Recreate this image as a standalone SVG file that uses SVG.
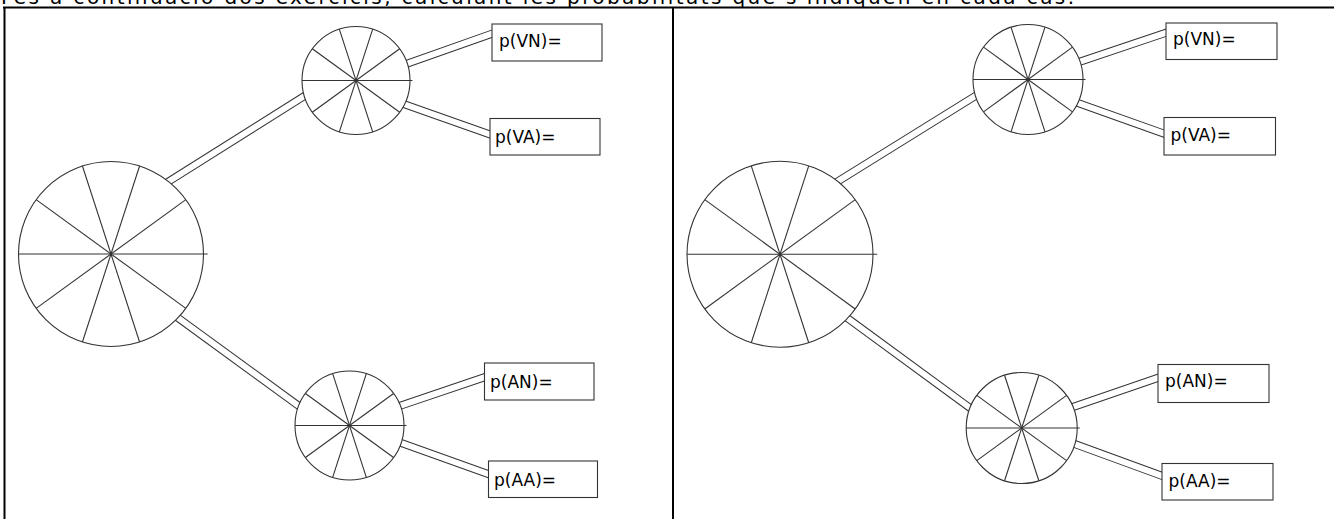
<svg xmlns="http://www.w3.org/2000/svg" xmlns:xlink="http://www.w3.org/1999/xlink" width="1334" height="519" viewBox="0 0 1334 519">
<style>
.frame{stroke:#000;stroke-width:2;fill:none}
.co{stroke:#333;stroke-width:8;fill:none}
.ci{stroke:#fff;stroke-width:6;fill:none}
.wheel{fill:#fff;stroke:#333;stroke-width:1.1}
.nss{vector-effect:non-scaling-stroke}
.box rect{fill:#fff;stroke:#333;stroke-width:1.1}
.box text{font-family:"DejaVu Sans",Verdana,sans-serif;font-size:17px;fill:#000}
.title{font-family:"DejaVu Sans",Verdana,sans-serif;font-size:20px;fill:#000}
</style>
<defs>
<g id="wheel">
<circle class="nss" cx="0" cy="0" r="1"/>
<line class="nss" x1="-1" y1="0" x2="1.045" y2="0"/>
<line class="nss" x1="-0.809" y1="0.588" x2="0.809" y2="-0.588"/>
<line class="nss" x1="-0.309" y1="0.951" x2="0.309" y2="-0.951"/>
<line class="nss" x1="0.309" y1="0.951" x2="-0.309" y2="-0.951"/>
<line class="nss" x1="0.809" y1="0.588" x2="-0.809" y2="-0.588"/>
</g>
</defs>
<rect width="1334" height="519" fill="#fff"/>
<text class="title" x="1" y="3.5" textLength="1073" lengthAdjust="spacing">Fes a continuació dos exercicis, calculant les probabilitats que s'indiquen en cada cas.</text>
<g id="frame">
<line class="frame" x1="3" y1="7.5" x2="1334" y2="7.5"/>
<line class="frame" x1="4.5" y1="7" x2="4.5" y2="519"/>
<line class="frame" x1="673" y1="7" x2="673" y2="519"/>
</g>
<g id="connectors">
<line class="co" x1="155.6" y1="189.7" x2="316" y2="88.7"/><line class="ci" x1="155.6" y1="189.7" x2="316" y2="88.7"/>
<line class="co" x1="165.4" y1="308.7" x2="309.6" y2="413.8"/><line class="ci" x1="165.4" y1="308.7" x2="309.6" y2="413.8"/>
<line class="co" x1="394.9" y1="68" x2="497.7" y2="31.7"/><line class="ci" x1="394.9" y1="68" x2="497.7" y2="31.7"/>
<line class="co" x1="390.9" y1="99.5" x2="495.7" y2="136.5"/><line class="ci" x1="390.9" y1="99.5" x2="495.7" y2="136.5"/>
<line class="co" x1="386.8" y1="410.3" x2="490.7" y2="375.1"/><line class="ci" x1="386.8" y1="410.3" x2="490.7" y2="375.1"/>
<line class="co" x1="387.4" y1="438" x2="493.6" y2="476"/><line class="ci" x1="387.4" y1="438" x2="493.6" y2="476"/>
<line class="co" x1="824.5" y1="189.6" x2="988" y2="88.1"/><line class="ci" x1="824.5" y1="189.6" x2="988" y2="88.1"/>
<line class="co" x1="834.4" y1="308.6" x2="981.6" y2="416.4"/><line class="ci" x1="834.4" y1="308.6" x2="981.6" y2="416.4"/>
<line class="co" x1="1066.8" y1="66.1" x2="1171.7" y2="30.8"/><line class="ci" x1="1066.8" y1="66.1" x2="1171.7" y2="30.8"/>
<line class="co" x1="1063.9" y1="98" x2="1169.7" y2="135.7"/><line class="ci" x1="1063.9" y1="98" x2="1169.7" y2="135.7"/>
<line class="co" x1="1058.8" y1="411.9" x2="1163.7" y2="375.9"/><line class="ci" x1="1058.8" y1="411.9" x2="1163.7" y2="375.9"/>
<line class="co" x1="1059.9" y1="438.6" x2="1166.6" y2="477.6"/><line class="ci" x1="1059.9" y1="438.6" x2="1166.6" y2="477.6"/>
</g>
<g id="left-root" class="wheel" transform="translate(111,254) scale(92.5)"><use xlink:href="#wheel"/></g>
<g id="left-V" class="wheel" transform="translate(356,80.5) scale(54)"><use xlink:href="#wheel"/></g>
<g id="left-A" class="wheel" transform="translate(349.5,425.5) scale(54.5)"><use xlink:href="#wheel"/></g>
<g id="right-root" class="wheel" transform="translate(780,254.3) scale(93)"><use xlink:href="#wheel"/></g>
<g id="right-V" class="wheel" transform="translate(1028,79.5) scale(55)"><use xlink:href="#wheel"/></g>
<g id="right-A" class="wheel" transform="translate(1021.7,428) scale(55.5)"><use xlink:href="#wheel"/></g>
<g id="left-VN" class="box"><rect x="492" y="24" width="110" height="37"/><text x="499" y="46.5">p(VN)=</text></g>
<g id="left-VA" class="box"><rect x="490" y="118.5" width="110" height="36.5"/><text x="495" y="143">p(VA)=</text></g>
<g id="left-AN" class="box"><rect x="484.5" y="363" width="109.5" height="37"/><text x="490" y="387.5">p(AN)=</text></g>
<g id="left-AA" class="box"><rect x="488.5" y="461" width="109" height="36.5"/><text x="494" y="486">p(AA)=</text></g>
<g id="right-VN" class="box"><rect x="1166" y="23" width="111" height="36.5"/><text x="1173" y="45">p(VN)=</text></g>
<g id="right-VA" class="box"><rect x="1164" y="117.5" width="111.5" height="37.5"/><text x="1170.5" y="140.7">p(VA)=</text></g>
<g id="right-AN" class="box"><rect x="1158" y="364.5" width="111" height="38"/><text x="1165" y="386.7">p(AN)=</text></g>
<g id="right-AA" class="box"><rect x="1162" y="463.5" width="111" height="36.5"/><text x="1168.5" y="486.7">p(AA)=</text></g>
</svg>
